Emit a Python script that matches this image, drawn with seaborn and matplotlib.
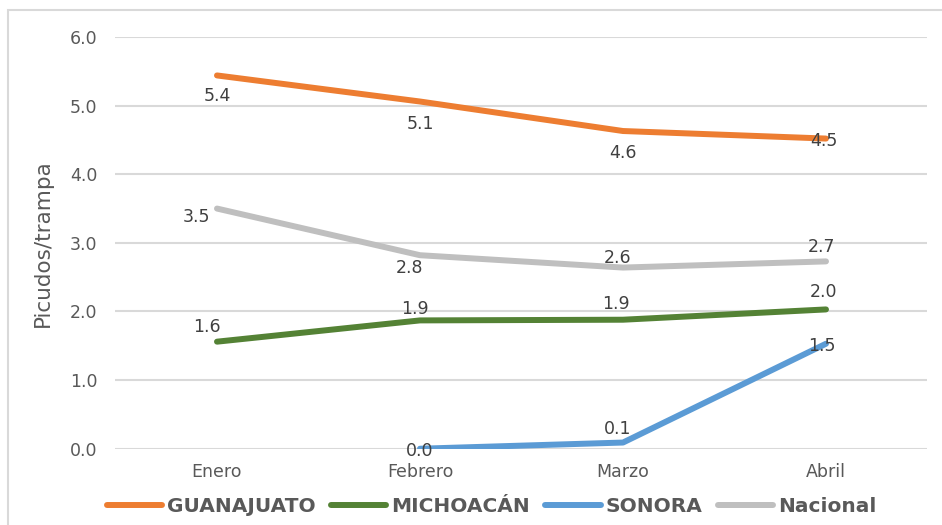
import numpy as np
import pandas as pd
import matplotlib.pyplot as plt
import seaborn as sns

# Data
meses = ['Enero', 'Febrero', 'Marzo', 'Abril']
guanajuato = [5.44, 5.06, 4.63, 4.52]
michoacan = [1.56, 1.87, 1.88, 2.03]
sonora = [np.nan, 0.0, 0.09, 1.53]
nacional = [3.50, 2.82, 2.64, 2.73]

series = {'GUANAJUATO': guanajuato, 'MICHOACÁN': michoacan,
          'SONORA': sonora, 'Nacional': nacional}
colores = {'GUANAJUATO': '#ED7D31', 'MICHOACÁN': '#548235',
           'SONORA': '#5B9BD5', 'Nacional': '#BFBFBF'}

rows = []
for nombre, vals in series.items():
    for i, (m, v) in enumerate(zip(meses, vals)):
        rows.append({'mes': m, 'pos': i, 'valor': v, 'serie': nombre})
df = pd.DataFrame(rows)

sns.set_style('white')
plt.rcParams['font.family'] = ['DejaVu Sans']
gris = '#595959'

fig = plt.figure(figsize=(9.42, 5.25), dpi=100)
ax = fig.add_axes([0.1226, 0.1453, 0.862, 0.7842])

sns.lineplot(data=df.dropna(), x='pos', y='valor', hue='serie', palette=colores,
             hue_order=list(series.keys()), linewidth=4.3, ax=ax, legend=False,
             solid_capstyle='round', sort=False)

ax.set_xlim(-0.5, 3.5)
ax.set_ylim(0, 6)
ax.set_xticks(range(len(meses)))
ax.set_xticklabels(meses)
ax.set_yticks(np.arange(0, 7, 1))
ax.set_yticklabels([f'{v:.1f}' for v in np.arange(0, 7, 1)])
ax.tick_params(axis='both', colors=gris, labelsize=12.5, length=0)
ax.tick_params(axis='x', pad=10)
ax.tick_params(axis='y', pad=13)
ax.grid(axis='y', color='#D9D9D9', linewidth=1.5)
ax.set_axisbelow(True)
for s in ax.spines.values():
    s.set_visible(False)
ax.set_xlabel('')
ax.set_ylabel('Picudos/trampa', color=gris, fontsize=15.5, labelpad=12)

# data label offsets in pixels (dx, dy)
offsets = {
    'GUANAJUATO': [(0, -21), (0, -22), (0, -22), (-2, -2)],
    'MICHOACÁN': [(-10, 15), (-5, 11), (-7, 16), (-2, 17)],
    'SONORA': [None, (0, -2), (-5, 14), (-4, -2)],
    'Nacional': [(-21, -8), (-10, -13), (-5, 10), (-4, 14)],
}
for nombre, vals in series.items():
    for i, v in enumerate(vals):
        if np.isnan(v):
            continue
        dx, dy = offsets[nombre][i]
        ax.annotate(f'{v:.1f}', (i, v), xytext=(dx, dy), textcoords='offset pixels',
                    ha='center', va='center', fontsize=12.5, color='#404040')

handles = [plt.Line2D([], [], color=colores[n], linewidth=4.3, solid_capstyle='round')
           for n in series]
leg = fig.legend(handles, list(series.keys()), loc='center', bbox_to_anchor=(0.522, 0.036),
                 ncol=4, frameon=False, handlelength=2.75, handletextpad=0.25,
                 columnspacing=0.75, prop={'weight': 'bold', 'size': 14.5})
for t in leg.get_texts():
    t.set_color(gris)

# chart area border (left/top visible)
fig.add_artist(plt.Rectangle((8 / 942, -0.05), 1.2, 1 - 10 / 525 + 0.05,
                             transform=fig.transFigure, fill=False,
                             edgecolor='#D9D9D9', linewidth=1.5))

fig.savefig('out.png', dpi=100)
